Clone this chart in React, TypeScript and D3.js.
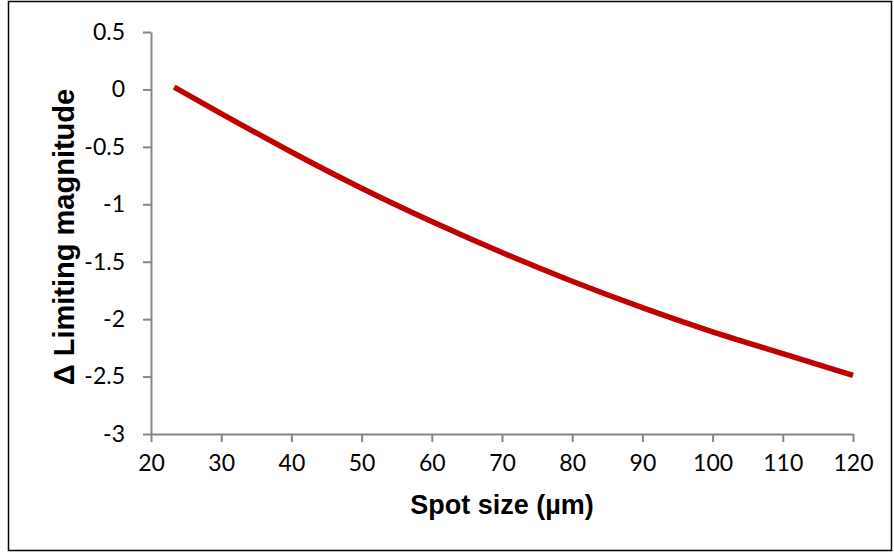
import { useEffect, useRef } from 'react';
import * as d3 from 'd3';

// spot size (µm) vs change in limiting magnitude
const spotSizes = [23.3, 30, 40, 50, 60, 70, 80, 90, 100, 110, 120];
const deltaMag = [0.02, -0.21, -0.545, -0.86, -1.15, -1.42, -1.67, -1.9, -2.11, -2.3, -2.49];
const xTicks = [20, 30, 40, 50, 60, 70, 80, 90, 100, 110, 120];
const yTicks = [0.5, 0, -0.5, -1, -1.5, -2, -2.5, -3];

const W = 894;
const H = 554;

const App = () => {
  const svgRef = useRef<SVGSVGElement>(null);
  const margin = { top: 32, right: 41, bottom: 120, left: 151 };

  useEffect(() => {
    if (!svgRef.current) return;
    const svg = d3.select(svgRef.current);
    svg.selectAll('*').remove();

    const plotW = W - margin.left - margin.right;
    const plotH = H - margin.top - margin.bottom;

    // chart frame
    svg.append('rect')
      .attr('x', 8.5)
      .attr('y', 1.5)
      .attr('width', 883)
      .attr('height', 549)
      .attr('fill', 'white')
      .attr('stroke', 'black')
      .attr('stroke-width', 1.5);

    const g = svg.append('g')
      .attr('transform', `translate(${margin.left},${margin.top})`);

    const x = d3.scaleLinear().domain([20, 120]).range([0, plotW]);
    const y = d3.scaleLinear().domain([-3, 0.5]).range([plotH, 0]);

    const tickFont = 'Lato, "Open Sans", sans-serif';
    const axisColor = '#868686';

    // X axis
    const xAxis = g.append('g')
      .attr('transform', `translate(0,${plotH})`)
      .call(d3.axisBottom(x).tickValues(xTicks).tickSize(8).tickSizeOuter(0).tickPadding(13));
    xAxis.select('.domain').attr('stroke', axisColor).attr('stroke-width', 2);
    xAxis.selectAll('.tick line').attr('stroke', axisColor).attr('stroke-width', 2);
    xAxis.selectAll('.tick text')
      .attr('fill', 'black')
      .style('font-family', tickFont)
      .style('font-size', '23px');

    // Y axis (plain hyphen minus, Excel style labels)
    const yAxis = g.append('g')
      .call(d3.axisLeft(y).tickValues(yTicks).tickSize(8).tickSizeOuter(0).tickPadding(18)
        .tickFormat(d => String(d)));
    yAxis.select('.domain').attr('stroke', axisColor).attr('stroke-width', 2);
    yAxis.selectAll('.tick line').attr('stroke', axisColor).attr('stroke-width', 2);
    yAxis.selectAll('.tick text')
      .attr('fill', 'black')
      .style('font-family', tickFont)
      .style('font-size', '23px');

    // the curve
    const line = d3.line<number>()
      .x((d, i) => x(spotSizes[i]))
      .y(d => y(d))
      .curve(d3.curveNatural);

    g.append('path')
      .datum(deltaMag)
      .attr('d', line)
      .attr('fill', 'none')
      .attr('stroke', '#C00000')
      .attr('stroke-width', 5.5);

    // axis titles
    svg.append('text')
      .attr('x', margin.left + plotW / 2)
      .attr('y', 505)
      .attr('dy', '0.35em')
      .attr('text-anchor', 'middle')
      .style('font-family', '"Liberation Sans", Arial, sans-serif')
      .style('font-weight', 'bold')
      .style('font-size', '27px')
      .text('Spot size (µm)');

    svg.append('text')
      .attr('transform', 'translate(64,237) rotate(-90)')
      .attr('dy', '0.35em')
      .attr('text-anchor', 'middle')
      .style('font-family', '"Liberation Sans", Arial, sans-serif')
      .style('font-weight', 'bold')
      .style('font-size', '29px')
      .text('Δ Limiting magnitude');
  }, []);

  return (
    <svg
      ref={svgRef}
      width={W}
      height={H}
      style={{ position: 'absolute', left: 0, top: 0, background: 'white' }}
    />
  );
};

export default App;
